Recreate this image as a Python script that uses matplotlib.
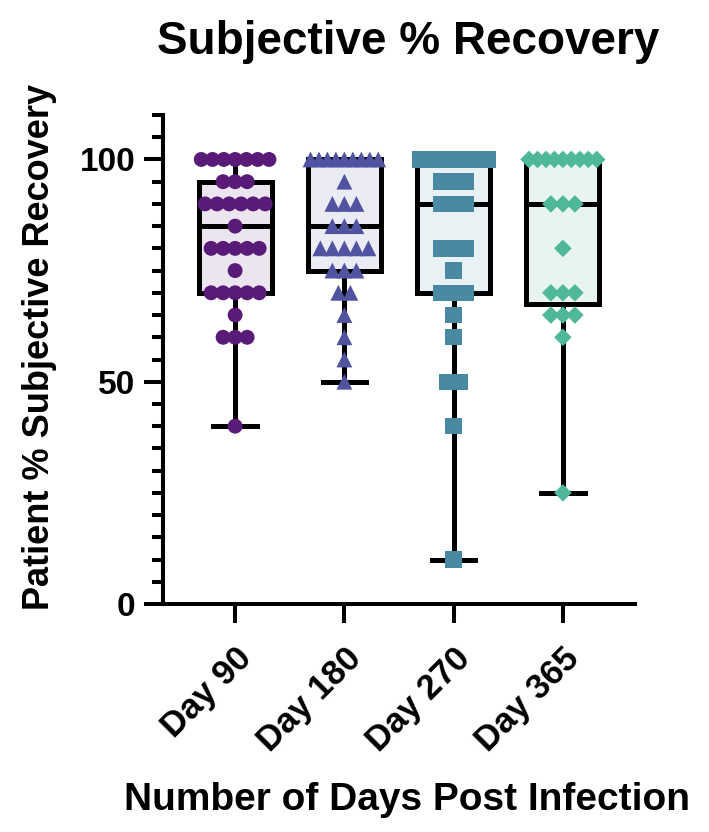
import numpy as np
import matplotlib
matplotlib.use('Agg')
import matplotlib.pyplot as plt

plt.rcParams['font.family'] = ['Liberation Sans', 'DejaVu Sans']
plt.rcParams['font.weight'] = 'bold'

days = ['Day 90', 'Day 180', 'Day 270', 'Day 365']

# (value, count)
day90 = [(100, 7), (95, 3), (90, 6), (85, 1), (80, 5), (75, 1), (70, 5), (65, 1), (60, 3), (40, 1)]
day180 = [(100, 9), (95, 1), (90, 3), (85, 3), (80, 5), (75, 3), (70, 2), (65, 1), (60, 1), (55, 1), (50, 1)]
day270 = [(100, 10), (95, 3), (90, 3), (80, 3), (75, 1), (70, 3), (65, 1), (60, 1), (50, 2), (40, 1), (10, 1)]
day365 = [(100, 9), (90, 3), (80, 1), (70, 3), (65, 3), (60, 1), (25, 1)]

groups = [day90, day180, day270, day365]
colors = ['#5a1a77', '#4f53a0', '#4a89a2', '#4fb89a']
fills = ['#ebe5ef', '#ebebf4', '#e8f1f4', '#e7f4ef']
markers = ['o', '^', 's', 'D']
msizes = [115, 130, 140, 80]

fig = plt.figure(figsize=(7.09, 8.32), dpi=100)
ax = fig.add_axes([163/709, 228/832, 472/709, 489/832])

stats = []
for g in groups:
    vals = np.repeat([v for v, c in g], [c for v, c in g])
    q1, med, q3 = np.percentile(vals, [25, 50, 75], method='weibull')
    stats.append(dict(med=med, q1=q1, q3=q3, whislo=vals.min(), whishi=vals.max(), fliers=[]))

for i, st in enumerate(stats):
    ax.bxp([st], positions=[i], widths=0.67, patch_artist=True, showfliers=False,
           boxprops=dict(facecolor=fills[i], edgecolor='black', linewidth=3.6),
           medianprops=dict(color='black', linewidth=3.6),
           whiskerprops=dict(color='black', linewidth=3.6),
           capprops=dict(color='black', linewidth=3.6),
           capwidths=0.4, zorder=2)

# simple row-wise swarm of points
for i, g in enumerate(groups):
    xs, ys = [], []
    for v, c in g:
        step = 0.11 if c < 2 else min(0.11, 0.62 / (c - 1))
        off = (np.arange(c) - (c - 1) / 2) * step
        xs.extend(i + off)
        ys.extend([v] * c)
    ax.scatter(xs, ys, s=msizes[i], marker=markers[i], color=colors[i],
               edgecolors='none', zorder=3, clip_on=False)

ax.set_xlim(-0.66, 3.66)
ax.set_ylim(0, 110)
ax.set_yticks([0, 50, 100])
ax.set_yticks(np.arange(0, 111, 5), minor=True)
ax.set_xticks(range(4))
ax.set_xticklabels(days, rotation=45, ha='right', rotation_mode='anchor',
                   fontsize=25, fontweight='bold')
for lab in ax.get_yticklabels():
    lab.set_fontsize(24)
    lab.set_fontweight('bold')

for s in ['top', 'right']:
    ax.spines[s].set_visible(False)
for s in ['left', 'bottom']:
    ax.spines[s].set_linewidth(2.9)
ax.tick_params(axis='both', which='major', length=14, width=2.9, pad=6)
ax.tick_params(axis='x', which='major', pad=13)
ax.tick_params(axis='y', which='minor', length=8, width=2.9)
ax.tick_params(axis='x', which='minor', length=0)

fig.text(408/709, 1 - 42/832, 'Subjective % Recovery', ha='center', va='center',
         fontsize=33, fontweight='bold')
fig.text(407/709, 1 - 800/832, 'Number of Days Post Infection', ha='center', va='center',
         fontsize=28, fontweight='bold')
fig.text(40/709, 1 - 347/832, 'Patient % Subjective Recovery', ha='center', va='center',
         rotation=90, fontsize=26, fontweight='bold')

fig.savefig('out.png', dpi=100)
